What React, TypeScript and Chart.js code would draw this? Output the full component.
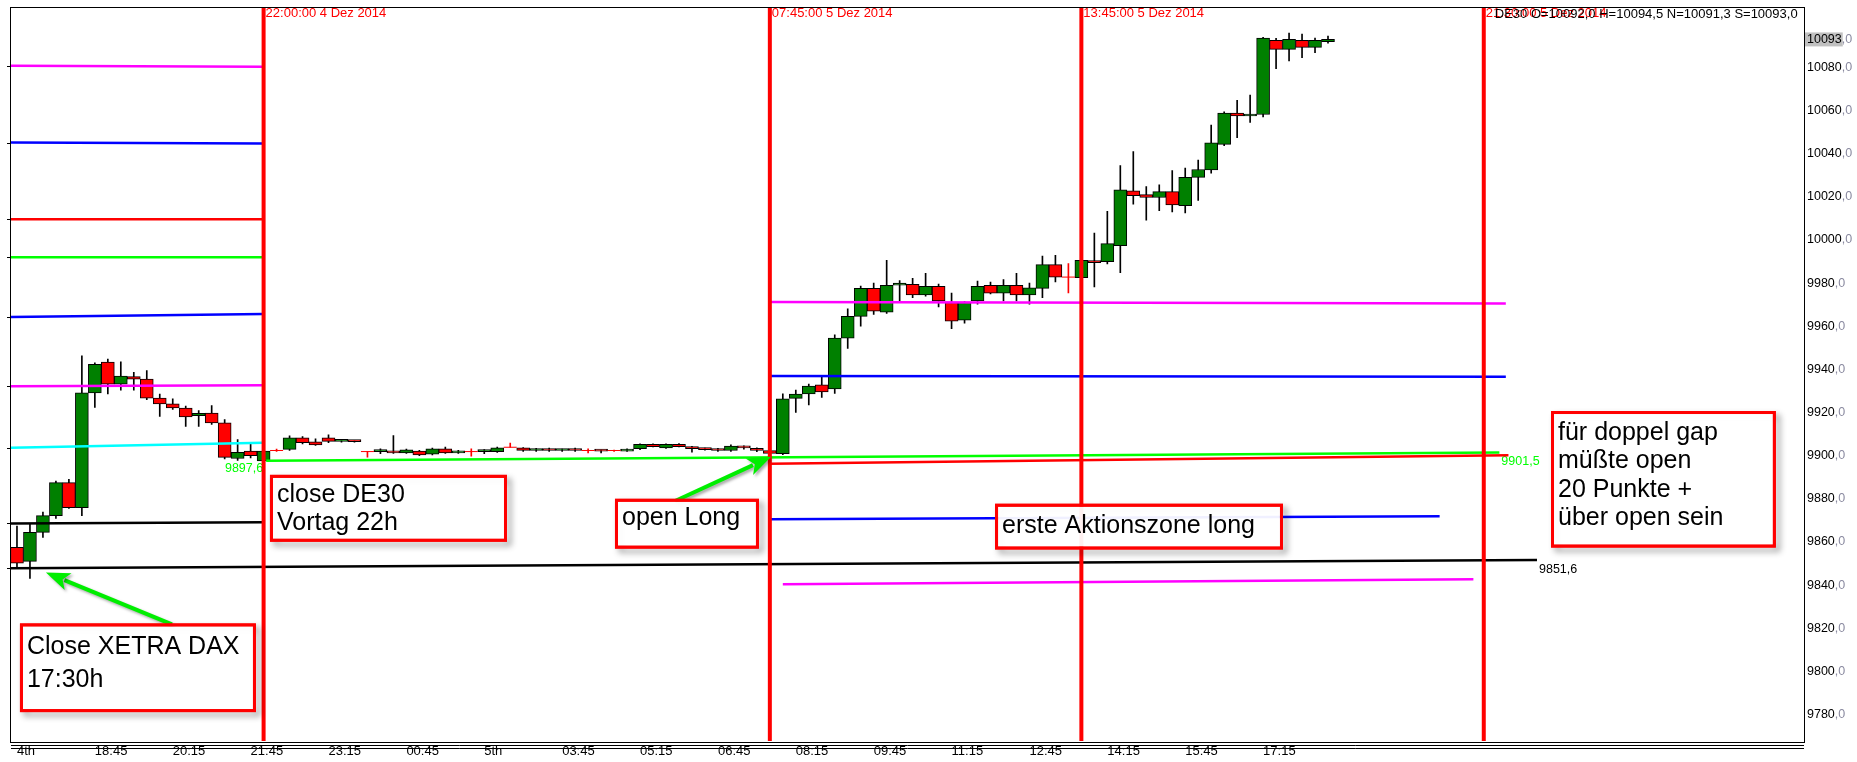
import React, { useEffect, useRef } from "react";
import { Chart, registerables } from "chart.js";

Chart.register(...registerables);

const FONT = "'Liberation Sans', Arial, Helvetica, sans-serif";

// 15-minute candles, index 0 = 17:15 on 4 Dec 2014
const OPEN = [
  9857.5, 9851.0, 9864.4, 9872.2, 9887.5, 9875.9, 9929.1, 9943.4, 9933.2, 9936.7,
  9935.5, 9926.7, 9924.0, 9922.1, 9918.5, 9919.8, 9915.2, 9898.7, 9902.1, 9897.6,
  9902.4, 9902.9, 9908.3, 9906.4, 9908.3, 9906.6, 9906.7, 9901.9, 9901.9, 9902.1,
  9901.3, 9902.1, 9900.7, 9903.2, 9901.3, 9901.9, 9901.9, 9901.8, 9903.9, 9903.6,
  9902.4, 9903.2, 9902.4, 9903.2, 9902.4, 9902.4, 9902.4, 9902.1, 9903.2, 9905.2,
  9903.6, 9905.2, 9904.2, 9903.2, 9903.2, 9902.4, 9904.4, 9903.4, 9902.4, 9900.9,
  9926.6, 9928.6, 9932.9, 9930.9, 9954.5, 9964.6, 9977.6, 9966.5, 9979.0, 9979.4,
  9974.5, 9978.5, 9971.0, 9962.8, 9971.7, 9979.0, 9975.4, 9979.0, 9974.5, 9977.6,
  9988.6, 9982.8, 9982.5, 9990.5, 9990.0, 9997.4, 10022.8, 10021.0, 10019.7, 10022.4,
  10015.9, 10029.0, 10032.5, 10044.3, 10058.8, 10057.5, 10058.2, 10092.6, 10088.4, 10092.6,
  10089.3, 10092.0,
];
const HIGH = [
  9867.3, 9868.6, 9873.8, 9888.2, 9889.0, 9946.3, 9943.0, 9944.8, 9943.5, 9938.6,
  9939.4, 9928.6, 9926.3, 9923.0, 9920.9, 9923.2, 9916.7, 9907.5, 9905.5, 9902.3,
  9903.0, 9909.2, 9908.8, 9907.8, 9909.7, 9907.0, 9906.9, 9901.9, 9903.2, 9909.3,
  9903.0, 9902.5, 9903.5, 9904.0, 9902.5, 9903.2, 9902.8, 9904.0, 9905.8, 9903.8,
  9903.4, 9903.5, 9903.0, 9903.5, 9903.2, 9902.6, 9902.6, 9903.2, 9905.5, 9905.5,
  9905.5, 9905.6, 9904.3, 9903.5, 9903.4, 9905.0, 9904.6, 9903.6, 9903.0, 9928.7,
  9930.4, 9933.2, 9936.3, 9956.0, 9968.1, 9978.6, 9980.0, 9990.6, 9981.2, 9982.2,
  9984.6, 9979.6, 9975.4, 9971.5, 9980.9, 9980.5, 9981.7, 9984.6, 9980.0, 9992.5,
  9992.9, 9989.1, 9991.0, 10003.2, 10013.3, 10034.5, 10041.0, 10024.8, 10025.6, 10032.2,
  10033.3, 10037.1, 10053.3, 10059.4, 10064.8, 10067.2, 10094.0, 10093.5, 10095.9, 10095.5,
  10093.6, 10094.5,
];
const LOW = [
  9848.2, 9843.1, 9862.1, 9870.9, 9875.5, 9872.2, 9922.4, 9928.6, 9930.4, 9930.4,
  9926.0, 9918.2, 9921.5, 9913.6, 9913.6, 9914.5, 9898.5, 9897.8, 9899.0, 9897.4,
  9902.0, 9902.4, 9905.5, 9904.8, 9906.0, 9906.3, 9906.2, 9899.3, 9900.9, 9901.0,
  9901.0, 9900.0, 9900.4, 9901.0, 9901.0, 9899.8, 9900.9, 9901.5, 9903.9, 9902.0,
  9902.0, 9902.0, 9902.0, 9902.0, 9901.3, 9901.3, 9902.0, 9902.0, 9902.8, 9904.0,
  9903.4, 9904.0, 9901.6, 9902.5, 9902.0, 9902.0, 9903.0, 9901.8, 9900.5, 9900.5,
  9920.0, 9923.5, 9927.0, 9928.9, 9949.7, 9960.1, 9965.5, 9966.0, 9971.7, 9973.2,
  9974.0, 9969.0, 9958.9, 9961.4, 9970.2, 9975.0, 9971.7, 9971.7, 9970.2, 9973.2,
  9980.6, 9975.5, 9982.0, 9978.3, 9988.9, 9984.8, 10016.6, 10009.2, 10013.6, 10013.0,
  10012.5, 10018.3, 10031.0, 10043.7, 10047.4, 10054.5, 10057.1, 10079.4, 10083.0, 10084.5,
  10086.8, 10091.3,
];
const CLOSE = [
  9850.1, 9864.4, 9872.2, 9887.5, 9875.9, 9929.1, 9942.4, 9933.2, 9936.9, 9935.5,
  9926.7, 9924.0, 9922.1, 9918.0, 9919.6, 9915.2, 9899.2, 9901.6, 9900.0, 9902.1,
  9902.4, 9908.3, 9906.0, 9905.0, 9906.6, 9906.7, 9906.5, 9901.9, 9902.1, 9901.3,
  9902.7, 9900.4, 9903.2, 9901.3, 9902.1, 9901.9, 9902.0, 9903.6, 9903.9, 9902.4,
  9903.2, 9902.4, 9902.6, 9902.4, 9902.4, 9902.1, 9902.4, 9902.2, 9905.2, 9904.2,
  9905.2, 9904.2, 9903.2, 9902.8, 9902.4, 9904.4, 9903.6, 9902.4, 9901.0, 9926.3,
  9928.6, 9932.3, 9929.5, 9954.5, 9964.6, 9977.6, 9967.0, 9979.0, 9980.0, 9974.5,
  9978.5, 9971.7, 9962.4, 9971.0, 9978.5, 9975.4, 9979.0, 9974.5, 9977.8, 9988.6,
  9982.8, 9982.8, 9990.6, 9989.5, 9998.3, 10023.3, 10020.5, 10019.7, 10022.4, 10016.3,
  10029.0, 10032.7, 10045.0, 10058.8, 10057.5, 10058.2, 10093.6, 10088.4, 10093.0, 10089.3,
  10092.6, 10093.0,
];

const X_MIN = -0.46;
const X_MAX = 137.67;
const Y_MIN = 9767.7;
const Y_MAX = 10107.8;

const X_TICK_IDX = [0, 6, 12, 18, 24, 30, 36, 42, 48, 54, 60, 66, 72, 78, 84, 90, 96];
const X_TICK_LABELS = [
  "4th", "18:45", "20:15", "21:45", "23:15", "00:45", "5th", "03:45", "05:15",
  "06:45", "08:15", "09:45", "11:15", "12:45", "14:15", "15:45", "17:15",
];
const Y_TICKS = [
  9780, 9800, 9820, 9840, 9860, 9880, 9900, 9920, 9940, 9960, 9980,
  10000, 10020, 10040, 10060, 10080,
];
const LAST_PRICE = 10093;
const HEADER = "DE30 O=10092,0 H=10094,5 N=10091,3 S=10093,0";

// level lines (start index, end index, start value, end value, colour)
const LVL_COLOR = [
  "#ff00ff", "#0000ff", "#ff0000", "#00ff00", "#0000ff", "#ff00ff", "#00ffff", "#000000",
  "#000000", "#00ff00", "#ff00ff", "#0000ff", "#ff0000", "#0000ff", "#ff00ff",
];
const LVL_X0 = [-0.46, -0.46, -0.46, -0.46, -0.46, -0.46, -0.46, -0.46, -0.46, 19.2, 58, 58, 58, 58, 59];
const LVL_X1 = [19, 19, 19, 19, 19, 19, 19, 19, 117.1, 114.2, 114.7, 114.7, 114.9, 109.6, 112.2];
const LVL_Y0 = [10080.8, 10045.2, 10009.6, 9992.0, 9964.3, 9932.2, 9903.7, 9868.6, 9847.8, 9897.6, 9971.3, 9936.9, 9896.3, 9870.5, 9840.4];
const LVL_Y1 = [10080.3, 10044.7, 10009.6, 9992.0, 9965.7, 9932.7, 9906.0, 9869.1, 9851.6, 9901.5, 9970.6, 9936.6, 9900.2, 9871.9, 9842.7];

const TAG_TEXT = ["9897,6", "9901,5", "9851,6"];
const TAG_LINE = [9, 9, 8];
const TAG_AT_END = [false, true, true];

const VLINE_IDX = [19, 58, 82, 113];
const VLINE_TEXT = ["22:00:00 4 Dez 2014", "07:45:00 5 Dez 2014", "13:45:00 5 Dez 2014", "21:30:00 5 Dez 2014"];

const NOTE_LINES = [
  ["Close XETRA DAX", "17:30h"],
  ["close DE30", "Vortag 22h"],
  ["open Long"],
  ["erste Aktionszone long"],
  ["für doppel gap", "müßte open", "20 Punkte +", "über open sein"],
];
const NOTE_X0 = [0.23, 19.49, 46.07, 75.35, 118.18];
const NOTE_X1 = [18.41, 37.75, 57.16, 97.53, 135.5];
const NOTE_TOP = [9822.2, 9891.1, 9880.0, 9877.7, 9920.7];
const NOTE_BOTTOM = [9781.1, 9860.1, 9856.9, 9856.5, 9857.4];
const NOTE_TEXT_DY = [24, 20, 19, 22, 22];
const NOTE_LINE_GAP = [33, 28, 28, 28, 28.5];

const ARROW_FROM_X = [11.94, 50.7];
const ARROW_FROM_Y = [9821.8, 9879.0];
const ARROW_TO_X = [2.23, 58.1];
const ARROW_TO_Y = [9845.8, 9899.5];

const decor = {
  id: "decor",
  beforeDraw(chart: any) {
    const { ctx, width, height } = chart;
    ctx.save();
    ctx.fillStyle = "#ffffff";
    ctx.fillRect(0, 0, width, height);
    ctx.restore();
  },
  beforeDatasetsDraw(chart: any) {
    const { ctx } = chart;
    const xs = chart.scales.x;
    const ys = chart.scales.y;
    ctx.save();
    ctx.font = `12.5px ${FONT}`;
    ctx.textBaseline = "middle";
    TAG_TEXT.forEach((t, k) => {
      const li = TAG_LINE[k];
      ctx.fillStyle = LVL_COLOR[li];
      if (TAG_AT_END[k]) {
        ctx.textAlign = "left";
        ctx.fillText(t, xs.getPixelForValue(LVL_X1[li]) + 2, ys.getPixelForValue(LVL_Y1[li]) + 9);
      } else {
        ctx.textAlign = "right";
        ctx.fillText(t, xs.getPixelForValue(LVL_X0[li]) - 3, ys.getPixelForValue(LVL_Y0[li]) + 8);
      }
    });
    ctx.restore();
  },
  afterDatasetsDraw(chart: any) {
    const { ctx, chartArea: a } = chart;
    const xs = chart.scales.x;
    const ys = chart.scales.y;
    ctx.save();
    // plot frame
    ctx.strokeStyle = "#000";
    ctx.lineWidth = 1;
    ctx.strokeRect(Math.round(a.left) - 0.5, Math.round(a.top) - 0.5, Math.round(a.right - a.left) + 1, Math.round(a.bottom - a.top) + 1);
    // small level marks on the left frame
    LVL_X0.forEach((x0, k) => {
      if (x0 <= X_MIN) {
        const y = Math.round(ys.getPixelForValue(LVL_Y0[k])) + 0.5;
        ctx.beginPath();
        ctx.moveTo(a.left - 4, y);
        ctx.lineTo(a.left, y);
        ctx.stroke();
      }
    });
    // red time labels
    ctx.font = `13px ${FONT}`;
    ctx.textBaseline = "middle";
    ctx.textAlign = "left";
    ctx.fillStyle = "#ff0000";
    VLINE_IDX.forEach((v, k) => {
      ctx.fillText(VLINE_TEXT[k], xs.getPixelForValue(v) + 2, a.top + 6);
    });
    // header
    ctx.fillStyle = "#000";
    ctx.fillText(HEADER, xs.getPixelForValue(VLINE_IDX[3]) + 11, a.top + 6.5);

    // arrows
    for (let k = 0; k < ARROW_FROM_X.length; k++) {
      const fx = xs.getPixelForValue(ARROW_FROM_X[k]);
      const fy = ys.getPixelForValue(ARROW_FROM_Y[k]);
      const tx = xs.getPixelForValue(ARROW_TO_X[k]);
      const ty = ys.getPixelForValue(ARROW_TO_Y[k]);
      const ang = Math.atan2(ty - fy, tx - fx);
      const hl = 24;
      const hw = 9;
      const bx = tx - Math.cos(ang) * hl;
      const by = ty - Math.sin(ang) * hl;
      ctx.save();
      ctx.shadowColor = "rgba(0,0,0,0.35)";
      ctx.shadowBlur = 3;
      ctx.shadowOffsetX = 2;
      ctx.shadowOffsetY = 2;
      ctx.strokeStyle = "#00ee00";
      ctx.fillStyle = "#00ee00";
      ctx.lineWidth = 4;
      ctx.beginPath();
      ctx.moveTo(fx, fy);
      ctx.lineTo(bx + Math.cos(ang) * 4, by + Math.sin(ang) * 4);
      ctx.stroke();
      ctx.beginPath();
      ctx.moveTo(tx, ty);
      ctx.lineTo(bx + Math.cos(ang + Math.PI / 2) * hw, by + Math.sin(ang + Math.PI / 2) * hw);
      ctx.lineTo(bx + Math.cos(ang) * 6, by + Math.sin(ang) * 6);
      ctx.lineTo(bx - Math.cos(ang + Math.PI / 2) * hw, by - Math.sin(ang + Math.PI / 2) * hw);
      ctx.closePath();
      ctx.fill();
      ctx.restore();
    }

    // note boxes
    NOTE_LINES.forEach((lines, k) => {
      const x0 = xs.getPixelForValue(NOTE_X0[k]);
      const x1 = xs.getPixelForValue(NOTE_X1[k]);
      const y0 = ys.getPixelForValue(NOTE_TOP[k]);
      const y1 = ys.getPixelForValue(NOTE_BOTTOM[k]);
      ctx.save();
      ctx.shadowColor = "rgba(0,0,0,0.45)";
      ctx.shadowBlur = 6;
      ctx.shadowOffsetX = 4;
      ctx.shadowOffsetY = 4;
      ctx.strokeStyle = "#ff0000";
      ctx.lineWidth = 3;
      ctx.strokeRect(x0 + 1.5, y0 + 1.5, x1 - x0 - 3, y1 - y0 - 3);
      ctx.restore();
      ctx.fillStyle = "rgba(255,255,255,0.94)";
      ctx.fillRect(x0 + 3, y0 + 3, x1 - x0 - 6, y1 - y0 - 6);
      ctx.strokeStyle = "#ff0000";
      ctx.lineWidth = 3;
      ctx.strokeRect(x0 + 1.5, y0 + 1.5, x1 - x0 - 3, y1 - y0 - 3);
      ctx.fillStyle = "#000";
      ctx.font = `25px ${FONT}`;
      ctx.textAlign = "left";
      ctx.textBaseline = "middle";
      lines.forEach((t, j) => ctx.fillText(t, x0 + 7, y0 + NOTE_TEXT_DY[k] + j * NOTE_LINE_GAP[k]));
    });
    ctx.restore();
  },
  afterDraw(chart: any) {
    const { ctx, chartArea: a } = chart;
    const ys = chart.scales.y;
    ctx.save();
    // double line under the plot
    ctx.strokeStyle = "#000";
    ctx.lineWidth = 1;
    [4.5, 7.5].forEach((d) => {
      const y = Math.round(a.bottom) + d;
      ctx.beginPath();
      ctx.moveTo(a.left, y);
      ctx.lineTo(a.right, y);
      ctx.stroke();
    });
    // price labels
    ctx.font = `12.5px ${FONT}`;
    ctx.textBaseline = "middle";
    ctx.textAlign = "left";
    const lx = a.right + 3;
    Y_TICKS.forEach((v) => {
      const y = ys.getPixelForValue(v);
      const s = String(v);
      ctx.fillStyle = "#000";
      ctx.fillText(s, lx, y);
      ctx.fillStyle = "#8a8aa0";
      ctx.fillText(",0", lx + ctx.measureText(s).width, y);
    });
    const py = ys.getPixelForValue(LAST_PRICE);
    const ps = String(LAST_PRICE);
    const pw = ctx.measureText(ps).width;
    ctx.fillStyle = "#c0c0c0";
    ctx.fillRect(lx - 2, py - 7, pw + 3, 14);
    ctx.fillStyle = "#000";
    ctx.fillText(ps, lx, py);
    ctx.fillStyle = "#8a8aa0";
    ctx.fillText(",0", lx + pw, py);
    ctx.restore();
  },
};

export default function App() {
  const ref = useRef<HTMLCanvasElement>(null);
  useEffect(() => {
    const canvas = ref.current;
    if (!canvas) return;
    const idx = OPEN.map((_, i) => i);
    const doji = idx.map((i) => OPEN[i] === CLOSE[i]);
    const datasets: any[] = [];
    datasets.push({
      type: "bar",
      label: "wick",
      data: idx.map((i) => ({ x: i, y: [LOW[i], HIGH[i]] })),
      backgroundColor: idx.map((i) => (doji[i] ? "#ff0000" : "#000000")),
      borderWidth: 0,
      barThickness: 1,
      grouped: false,
      order: 10,
    });
    datasets.push({
      type: "bar",
      label: "body",
      data: idx.map((i) => ({
        x: i,
        y: doji[i] ? null : [Math.min(OPEN[i], CLOSE[i]), Math.max(OPEN[i], CLOSE[i])],
      })),
      backgroundColor: idx.map((i) => (CLOSE[i] >= OPEN[i] ? "#008000" : "#ff0000")),
      borderColor: "#000000",
      borderWidth: 1,
      borderSkipped: false,
      barPercentage: 1,
      categoryPercentage: 1,
      minBarLength: 2,
      grouped: false,
      order: 9,
    });
    datasets.push({
      type: "line",
      label: "doji",
      data: idx.filter((i) => doji[i]).map((i) => ({ x: i, y: OPEN[i] })),
      showLine: false,
      pointStyle: "line",
      pointRadius: 6.5,
      pointHoverRadius: 6.5,
      borderColor: "#ff0000",
      pointBorderColor: "#ff0000",
      pointBorderWidth: 1,
      order: 8,
    });
    LVL_COLOR.forEach((c, k) => {
      datasets.push({
        type: "line",
        label: "lvl" + k,
        data: [
          { x: LVL_X0[k], y: LVL_Y0[k] },
          { x: LVL_X1[k], y: LVL_Y1[k] },
        ],
        borderColor: c,
        borderWidth: 2.5,
        pointRadius: 0,
        order: 5,
      });
    });
    VLINE_IDX.forEach((v, k) => {
      datasets.push({
        type: "line",
        label: "v" + k,
        data: [
          { x: v, y: Y_MIN },
          { x: v, y: Y_MAX },
        ],
        borderColor: "#ff0000",
        borderWidth: 4,
        pointRadius: 0,
        order: 1,
      });
    });

    const chart = new Chart(canvas, {
      type: "bar",
      data: { datasets },
      options: {
        responsive: true,
        maintainAspectRatio: false,
        animation: false,
        events: [],
        layout: { padding: { left: 11, top: 3, right: 0, bottom: 0 } },
        plugins: { legend: { display: false }, tooltip: { enabled: false } },
        scales: {
          x: {
            type: "linear",
            position: "bottom",
            min: X_MIN,
            max: X_MAX,
            offset: false,
            grid: { display: false, offset: false, drawTicks: false, tickLength: 0 },
            border: { display: false },
            afterBuildTicks: (s: any) => {
              s.ticks = X_TICK_IDX.map((v) => ({ value: v }));
            },
            afterFit: (s: any) => {
              s.height = 21;
            },
            ticks: {
              autoSkip: false,
              maxRotation: 0,
              minRotation: 0,
              align: "start",
              padding: 3,
              color: "#000",
              font: { family: FONT, size: 13 },
              callback: (v: any) => {
                const k = X_TICK_IDX.indexOf(Number(v));
                return k >= 0 ? X_TICK_LABELS[k] : "";
              },
            },
          },
          y: {
            type: "linear",
            position: "right",
            min: Y_MIN,
            max: Y_MAX,
            beginAtZero: false,
            grid: { display: false, drawTicks: false, tickLength: 0 },
            border: { display: false },
            ticks: { display: false },
            afterFit: (s: any) => {
              s.width = 53;
            },
          },
        },
      } as any,
      plugins: [decor],
    });
    return () => chart.destroy();
  }, []);
  return (
    <div style={{ position: "fixed", left: 0, top: 0, width: 1857, height: 762, background: "#fff" }}>
      <canvas ref={ref} />
    </div>
  );
}
